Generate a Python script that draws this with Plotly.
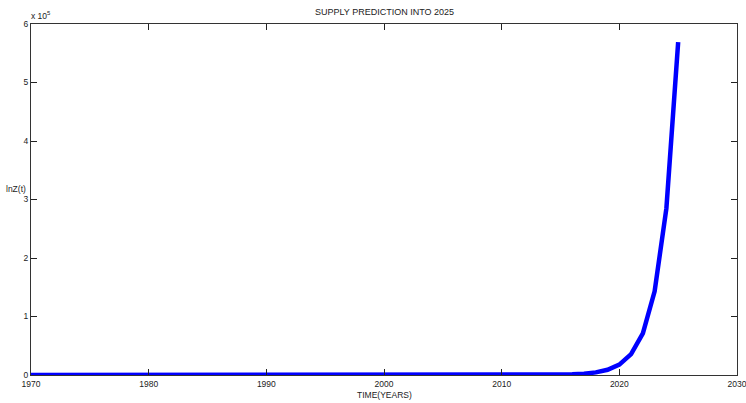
import plotly.graph_objects as go

years = list(range(1970, 2026))
# supply values, 1970..2025
supply = [0]*36 + [1, 2, 4, 9, 17, 35, 69, 139, 278, 556,
                   1110, 2220, 4450, 8900, 17800, 35600, 71000, 143000, 285000, 569000]

x_ticks = [1970, 1980, 1990, 2000, 2010, 2020, 2030]
y_ticks = [0, 100000, 200000, 300000, 400000, 500000, 600000]
y_tick_text = ["0", "1", "2", "3", "4", "5", "6"]

title = "SUPPLY PREDICTION INTO 2025"
x_title = "TIME(YEARS)"
y_title = "lnZ(t)"

font_family = "Liberation Sans, Arial, sans-serif"
txt = dict(family=font_family, size=8.5, color="#222222")

fig = go.Figure()
fig.add_trace(go.Scatter(x=years, y=supply, mode="lines",
                         line=dict(color="#0000ff", width=4.5), showlegend=False))

axis_common = dict(showgrid=False, zeroline=False, showline=True, linecolor="#333333",
                   linewidth=1, mirror="ticks", ticks="inside", ticklen=6,
                   tickcolor="#222222", tickwidth=1, ticklabeloverflow="allow",
                   tickfont=txt)

fig.update_layout(
    width=746, height=403,
    margin=dict(l=31, r=9, t=24, b=28, autoexpand=False),
    plot_bgcolor="white", paper_bgcolor="white",
    xaxis=dict(range=[1970, 2030], tickvals=x_ticks, ticklabelstandoff=1, **axis_common),
    yaxis=dict(range=[0, 600000], tickvals=y_ticks, ticktext=y_tick_text, **axis_common),
    annotations=[
        dict(text=title, x=0.5, y=1, xref="paper", yref="paper", yanchor="bottom",
             yshift=5, showarrow=False, font=dict(family=font_family, size=9, color="#222222")),
        dict(text=x_title, x=0.5, y=0, xref="paper", yref="paper", yanchor="top",
             yshift=-13, showarrow=False, font=txt),
        dict(text=y_title, x=0, y=300000, xref="paper", yref="y", xanchor="right",
             yanchor="bottom", xshift=-3, yshift=4, showarrow=False, font=txt),
        dict(text="x 10<sup>5</sup>", x=0, y=1, xref="paper", yref="paper", xanchor="left",
             yanchor="bottom", xshift=-2, yshift=1, showarrow=False, font=txt),
    ],
)

fig.write_html("out.html", config={"displayModeBar": False},
               post_script="document.body.style.margin='0';document.body.style.overflow='hidden';")
